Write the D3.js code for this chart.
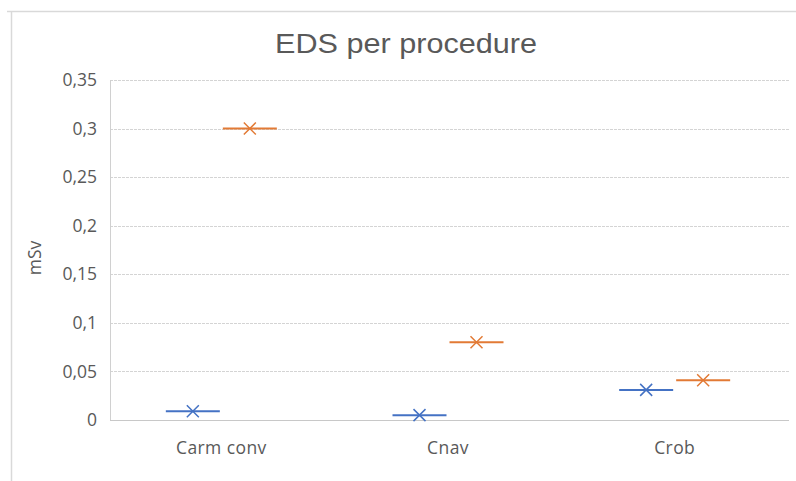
<!DOCTYPE html>
<html>
<head>
<meta charset="utf-8">
<script src="https://cdn.jsdelivr.net/npm/d3@7"></script>
<style>
  html, body { margin: 0; padding: 0; background: #fff; }
  svg { display: block; }
</style>
</head>
<body>
<svg id="chart" width="796" height="481"></svg>
<script>
// Effective dose per procedure (mSv), two series per category
const categories = ["Carm conv", "Cnav", "Crob"];
const seriesA = [0.009, 0.005, 0.031];
const seriesB = [0.30, 0.080, 0.041];
const yTicks = [0, 0.05, 0.1, 0.15, 0.2, 0.25, 0.3, 0.35];
const yTickLabels = ["0", "0,05", "0,1", "0,15", "0,2", "0,25", "0,3", "0,35"];

const colors = ["#4472C4", "#E27A35"];
const textColor = "#595959";
const labelFont = "'Open Sans', sans-serif";

const svg = d3.select("#chart");
const W = 796, H = 481;
const m = { left: 108, right: 8, top: 80, bottom: 61 };

// chart frame (top and left edges)
svg.append("line").attr("x1", 7).attr("x2", W).attr("y1", 11.5).attr("y2", 11.5)
  .attr("stroke", "#d9d9d9").attr("stroke-width", 1.5);
svg.append("line").attr("x1", 11.5).attr("x2", 11.5).attr("y1", 11).attr("y2", H)
  .attr("stroke", "#d9d9d9").attr("stroke-width", 1.5);

const x = d3.scaleBand().domain(categories).range([m.left, W - m.right]).padding(0);
const y = d3.scaleLinear().domain([0, 0.35]).range([H - m.bottom, m.top]);

// gridlines
const gx0 = 110, gx1 = 789;
svg.append("g").selectAll("line").data(yTicks.filter(v => v > 0)).join("line")
  .attr("x1", gx0).attr("x2", gx1)
  .attr("y1", d => Math.round(y(d)) + 0.5).attr("y2", d => Math.round(y(d)) + 0.5)
  .attr("stroke", "#d4d4d4").attr("stroke-width", 1)
  .attr("stroke-dasharray", "3,1");

// baseline and left axis line
svg.append("line").attr("x1", gx0).attr("x2", gx1)
  .attr("y1", Math.round(y(0)) + 0.5).attr("y2", Math.round(y(0)) + 0.5)
  .attr("stroke", "#c8c8c8");
svg.append("line").attr("x1", gx0 + 0.5).attr("x2", gx0 + 0.5)
  .attr("y1", y(0.35)).attr("y2", y(0))
  .attr("stroke", "#d0d0d0");

// y axis labels
const yAxis = d3.axisLeft(y).tickValues(yTicks)
  .tickFormat((d, i) => yTickLabels[i]).tickSize(0).tickPadding(13);
const yg = svg.append("g").attr("transform", `translate(${gx0},0)`).call(yAxis);
yg.select(".domain").remove();
yg.selectAll("text").attr("fill", textColor)
  .style("font-family", labelFont).style("font-size", "17.5px");

// x axis labels
const xAxis = d3.axisBottom(x).tickSize(0).tickPadding(22);
const xg = svg.append("g").attr("transform", `translate(0,${y(0)})`).call(xAxis);
xg.select(".domain").remove();
xg.selectAll("text").attr("fill", textColor)
  .style("font-family", labelFont).style("font-size", "17.5px")
  .style("letter-spacing", "0.4px");

// y axis title
svg.append("text")
  .attr("transform", "translate(41,258) rotate(-90)")
  .attr("text-anchor", "middle")
  .attr("fill", textColor)
  .style("font-family", labelFont).style("font-size", "17.5px")
  .text("mSv");

// title
svg.append("text")
  .attr("x", 406).attr("y", 53)
  .attr("text-anchor", "middle")
  .attr("fill", textColor)
  .style("font-family", "'Liberation Sans', Arial, sans-serif").style("font-size", "28px")
  .attr("textLength", 262).attr("lengthAdjust", "spacingAndGlyphs")
  .text("EDS per procedure");

// markers: short horizontal dash with an x marker for each value
const offsets = [-28.5, 28.5];
const halfW = 27, mk = 6;
[seriesA, seriesB].forEach((vals, s) => {
  const g = svg.append("g").attr("stroke", colors[s]);
  const pts = vals.map((v, i) => ({ cx: x(categories[i]) + x.bandwidth() / 2 + offsets[s], cy: y(v) }));
  g.selectAll("line.dash").data(pts).join("line").attr("class", "dash")
    .attr("x1", d => d.cx - halfW).attr("x2", d => d.cx + halfW)
    .attr("y1", d => d.cy).attr("y2", d => d.cy)
    .attr("stroke-width", 2);
  g.selectAll("path.mark").data(pts).join("path").attr("class", "mark")
    .attr("d", d => `M${d.cx - mk},${d.cy - mk}L${d.cx + mk},${d.cy + mk}M${d.cx - mk},${d.cy + mk}L${d.cx + mk},${d.cy - mk}`)
    .attr("stroke-width", 1.5).attr("fill", "none");
});
</script>
</body>
</html>
